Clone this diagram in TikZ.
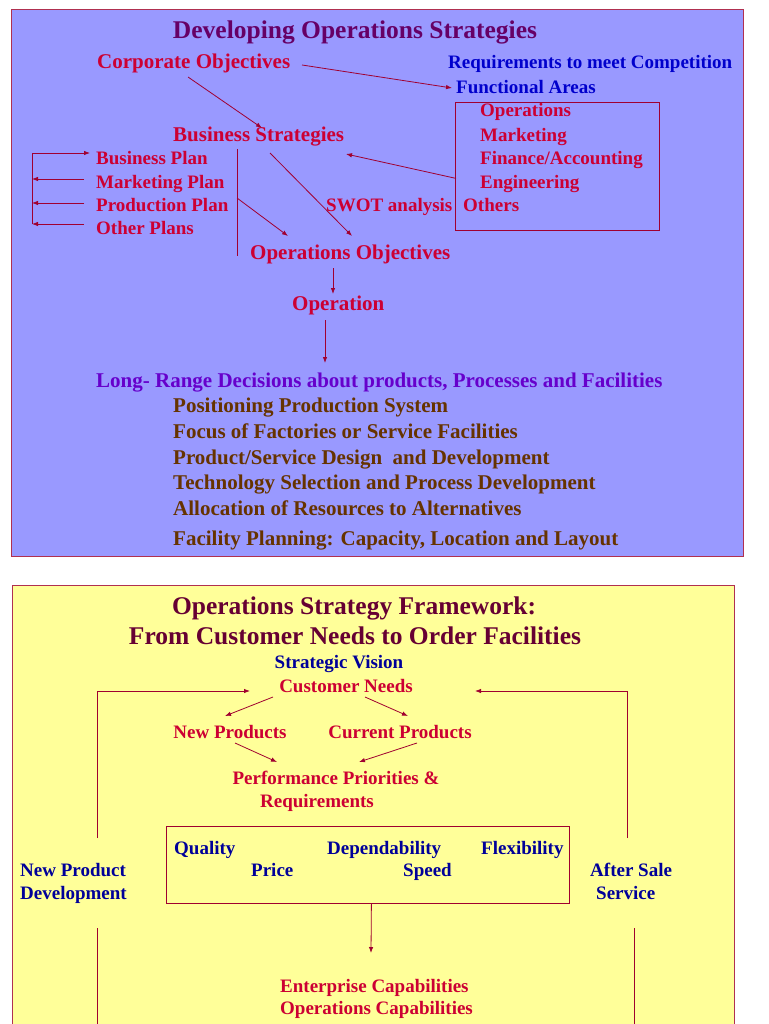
\documentclass[tikz,border=0pt]{standalone}
\usepackage{fontspec}
\setmainfont{Liberation Serif}
\usetikzlibrary{arrows.meta,calc}
\definecolor{bgblue}{HTML}{9999FF}
\definecolor{bgyellow}{HTML}{FFFF99}
\definecolor{frame}{HTML}{B03050}
\definecolor{txtred}{HTML}{CC0033}
\definecolor{linered}{HTML}{A00030}
\definecolor{ttlpurple}{HTML}{660066}
\definecolor{ttlmaroon}{HTML}{660033}
\definecolor{txtblue}{HTML}{0000CC}
\definecolor{txtnavy}{HTML}{000099}
\definecolor{txtviolet}{HTML}{6600CC}
\definecolor{txtbrown}{HTML}{663300}
\tikzset{
  lbl/.style={inner sep=0pt, anchor=west, text height=17pt, text depth=4.5pt, font=\bfseries\fontsize{19}{22}\selectfont},
  lblc/.style={inner sep=0pt, anchor=center, text height=17pt, text depth=4.5pt, font=\bfseries\fontsize{19}{22}\selectfont},
  big/.style={text height=19pt, text depth=5pt, font=\bfseries\fontsize{21}{24}\selectfont},
  ttl/.style={inner sep=0pt, anchor=center, text height=23pt, text depth=6pt, font=\bfseries\fontsize{25.5}{28}\selectfont},
  conn/.style={draw=linered, line width=0.8pt},
  arr/.style={conn, -{Latex[length=6pt,width=4.5pt]}},
  panel/.style={draw=frame, line width=1pt},
  framebox/.style={draw=linered, line width=0.8pt, inner sep=0pt, anchor=north west}
}
\begin{document}
\begin{tikzpicture}[x=1pt,y=-1pt]
\useasboundingbox (0,0) rectangle (768,1024);
\fill[white] (0,0) rectangle (768,1024);
% ---------- top panel ----------
\path[panel, fill=bgblue] (11,10) rectangle (743,556);
\node[ttl, text=ttlpurple] (t1) at (355,30) {Developing Operations Strategies};
\node[lbl, big, text=txtred] (co) at (97,62) {Corporate Objectives};
\node[lbl, text=txtblue] (req) at (448,62) {Requirements to meet Competition};
\node[lbl, text=txtblue] (fa) at (456,87) {Functional Areas};
\node[framebox, minimum width=204, minimum height=128] (fbox) at (455,102) {};
\node[lbl, text=txtred] (fops) at (480,110) {Operations};
\node[lbl, text=txtred] (fmkt) at (480,135) {Marketing};
\node[lbl, text=txtred] (ffin) at (480,158) {Finance/Accounting};
\node[lbl, text=txtred] (feng) at (480,182) {Engineering};
\node[lbl, text=txtred] (foth) at (463,205) {Others};
\node[lbl, text=txtred] (swot) at (326,205) {SWOT analysis};
\node[lbl, big, text=txtred] (bs) at (173,135) {Business Strategies};
\node[lbl, text=txtred] (bp) at (96,158) {Business Plan};
\node[lbl, text=txtred] (mp) at (96,182) {Marketing Plan};
\node[lbl, text=txtred] (pp) at (96,205) {Production Plan};
\node[lbl, text=txtred] (op) at (96,228) {Other Plans};
\node[lbl, big, text=txtred] (oo) at (250,252) {Operations Objectives};
\node[lbl, big, text=txtred] (opn) at (292,303) {Operation};
\node[lbl, big, text=txtviolet] (lr) at (96,380) {Long- Range Decisions about products, Processes and Facilities};
\node[lbl, big, text=txtbrown] (l1) at (173,405) {Positioning Production System};
\node[lbl, big, text=txtbrown] (l2) at (173,431) {Focus of Factories or Service Facilities};
\node[lbl, big, text=txtbrown] (l3) at (173,457) {Product/Service Design\ \ and Development};
\node[lbl, big, text=txtbrown] (l4) at (173,482) {Technology Selection and Process Development};
\node[lbl, big, text=txtbrown] (l5) at (173,508) {Allocation of Resources to Alternatives};
\node[lbl, big, text=txtbrown] (l6) at (173,538) {Facility Planning: Capacity, Location and Layout};
% connectors top
\draw[arr] ($(co.west)+(205,3)$) -- ($(fa.west)+(-4,1)$);
\draw[arr] ($(co.west)+(91,15)$) -- ($(bs.west)+(89,-7)$);
\draw[arr] ($(fbox.west)+(1,12)$) -- ($(bs.west)+(173,19)$);
\draw[arr] ($(bs.west)+(97,18)$) -- ($(oo.west)+(102,-16)$);
\draw[conn] ($(bs.west)+(64,14)$) -- ($(oo.west)+(-13,4)$);
\draw[arr] ($(bs.west)+(64,63)$) -- ($(oo.west)+(38,-16)$);
\draw[arr] ($(op.west)+(-64,-4)$) -- ($(bp.west)+(-64,-5)$) -- ($(bp.west)+(-6,-5)$);
\draw[arr] ($(mp.west)+(-12,-3)$) -- ($(mp.west)+(-64,-3)$);
\draw[arr] ($(pp.west)+(-12,-2)$) -- ($(pp.west)+(-64,-2)$);
\draw[arr] ($(op.west)+(-12,-4)$) -- ($(op.west)+(-64,-4)$);
\draw[arr] ($(oo.west)+(83,16)$) -- ($(opn.west)+(41,-9)$);
\draw[arr] ($(opn.west)+(33,17)$) -- ($(lr.west)+(229,-17)$);
% ---------- bottom panel ----------
\path[panel, fill=bgyellow] (12,585) rectangle (734,1040);
\node[ttl, text=ttlmaroon] (t2a) at (354,606) {Operations Strategy Framework:};
\node[ttl, text=ttlmaroon] (t2b) at (355,636) {From Customer Needs to Order Facilities};
\node[lblc, text=txtnavy] (sv) at (339,662) {Strategic Vision};
\node[lblc, text=txtred] (cn) at (346,686) {Customer Needs};
\node[lblc, text=txtred] (np) at (230,732) {New Products};
\node[lblc, text=txtred] (cp) at (400,732) {Current Products};
\node[lblc, text=txtred] (pr1) at (336,778) {Performance Priorities \&};
\node[lblc, text=txtred] (pr2) at (317,801) {Requirements};
\node[framebox, minimum width=403, minimum height=77] (qbox) at (166,826) {};
\node[lbl, text=txtnavy] (qual) at (174,848) {Quality};
\node[lbl, text=txtnavy] (dep) at (327,848) {Dependability};
\node[lbl, text=txtnavy] (flex) at (481,848) {Flexibility};
\node[lbl, text=txtnavy] (price) at (251,870) {Price};
\node[lbl, text=txtnavy] (speed) at (403,870) {Speed};
\node[lbl, text=txtnavy] (npd1) at (20,870) {New Product};
\node[lbl, text=txtnavy] (npd2) at (20,893) {Development};
\node[lbl, text=txtnavy] (as1) at (590,870) {After Sale};
\node[lbl, text=txtnavy] (as2) at (596,893) {Service};
\node[lbl, text=txtred] (ec1) at (280,986) {Enterprise Capabilities};
\node[lbl, text=txtred] (ec2) at (280,1008) {Operations Capabilities};
\coordinate (lend) at (97,1030);
\coordinate (rend) at (634,1030);
% connectors bottom
\draw[arr] ($(npd1.west)+(77,-32)$) -- ($(cn)+(-249,5)$) -- ($(cn)+(-96,5)$);
\draw[arr] ($(as1.west)+(37,-32)$) -- ($(cn)+(281,5)$) -- ($(cn)+(129,5)$);
\draw[arr] ($(cn)+(-73,11)$) -- ($(np)+(-5,-16)$);
\draw[arr] ($(cn)+(19,11)$) -- ($(cp)+(8,-16)$);
\draw[arr] ($(np)+(5,11)$) -- ($(pr1)+(-59,-16)$);
\draw[arr] ($(cp)+(17,11)$) -- ($(pr1)+(23,-16)$);
\draw[arr] ($(qbox.south)+(3.5,0)$) -- ($(ec1.west)+(91,-33)$);
\draw[conn] ($(npd2.west)+(77,35)$) -- (lend);
\draw[conn] ($(as2.west)+(38,35)$) -- (rend);
\end{tikzpicture}
\end{document}
